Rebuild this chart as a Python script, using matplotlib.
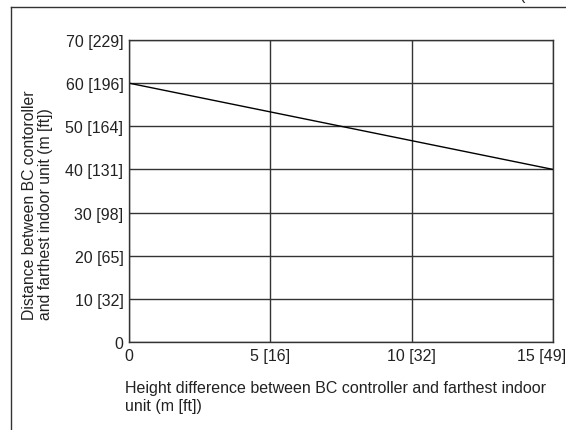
import matplotlib.pyplot as plt
from matplotlib.lines import Line2D
import matplotlib.transforms as mtransforms

plt.rcParams['font.family'] = ['Liberation Sans', 'DejaVu Sans']

# height difference (m) vs. allowed distance (m)
height_m = [0, 15]
distance_m = [60, 40]

x_ticks = [0, 5, 10, 15]
x_labels = ['0', '5 [16]', '10 [32]', '15 [49]']
y_ticks = [0, 10, 20, 30, 40, 50, 60, 70]
y_labels = ['0', '10 [32]', '20 [65]', '30 [98]', '40 [131]', '50 [164]', '60 [196]', '70 [229]']

FS = 11.5
TXT = '#222222'

fig = plt.figure(figsize=(5.66, 4.31), dpi=100)
# axes box: x 129..553 px, y 41..343 px
ax = fig.add_axes([129 / 566, 1 - 343 / 431, 424 / 566, 302 / 431])

ax.plot(height_m, distance_m, color='black', lw=1.0)
ax.set_xlim(0, 15)
ax.set_ylim(0, 70)
ax.set_xticks(x_ticks)
ax.set_xticklabels(x_labels)
ax.set_yticks(y_ticks)
ax.set_yticklabels(y_labels)
ax.tick_params(length=0, labelsize=FS, colors=TXT)
ax.tick_params(axis='y', pad=4)
ax.tick_params(axis='x', pad=4)
ax.grid(True, color='#333333', lw=1.0)
for sp in ax.spines.values():
    sp.set_color('#333333')
    sp.set_linewidth(1.0)

# last x label sits a bit left so it stays on the page
lbl = ax.get_xticklabels()[-1]
lbl.set_transform(lbl.get_transform() + mtransforms.ScaledTranslation(-11 / 100, 0, fig.dpi_scale_trans))

fig.text(22 / 566, 1 - 320 / 431, 'Distance between BC contoroller\nand farthest indoor unit (m [ft])',
         rotation=90, ha='left', va='bottom', multialignment='left',
         fontsize=11.3, color=TXT, linespacing=1.12)
fig.text(125 / 566, 1 - 381 / 431, 'Height difference between BC controller and farthest indoor\nunit (m [ft])',
         ha='left', va='top', multialignment='left', fontsize=FS, color=TXT,
         linespacing=1.25)

# page frame lines
fig.add_artist(Line2D([11 / 566, 11 / 566], [0, 1 - 8 / 431], transform=fig.transFigure,
                      color='#333333', lw=1.0))
fig.add_artist(Line2D([11 / 566, 1], [1 - 8 / 431, 1 - 8 / 431], transform=fig.transFigure,
                      color='#333333', lw=1.0))
fig.text(520 / 566, 1.0, '(', ha='left', va='baseline', fontsize=FS, color=TXT)

fig.savefig('out.png', dpi=100)
